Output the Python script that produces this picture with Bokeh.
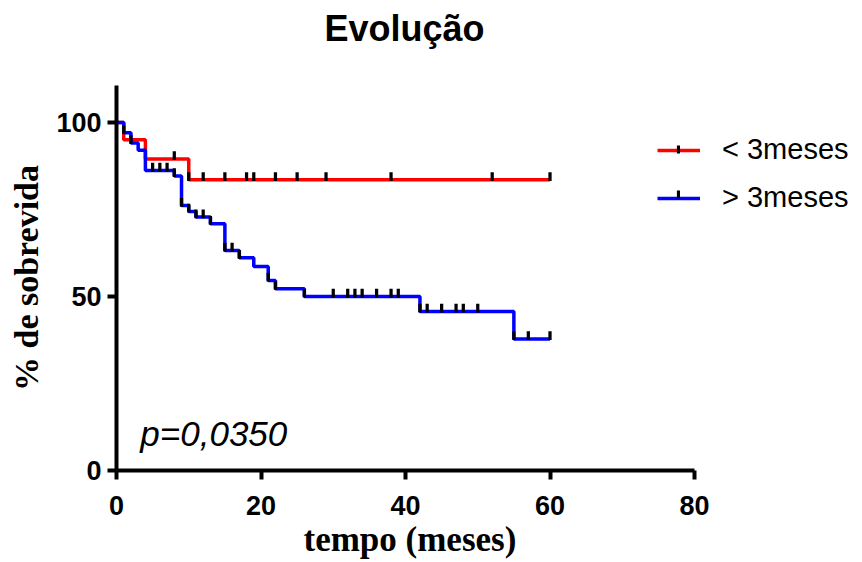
import numpy as np
from bokeh.plotting import figure
from bokeh.models import Legend, LegendItem, Range1d, FixedTicker, Title
from bokeh.core.properties import value
from bokeh.embed import file_html
from bokeh.resources import INLINE

# ---- data ----
title_text = "Evolução"
x_label = "tempo (meses)"
y_label = "% de sobrevida"
series_names = ["< 3meses", "> 3meses"]
p_text = "p=0,0350"

red_t = [0, 1, 4, 10, 60]
red_s = [100, 95, 89.5, 83.5, 83.5]
red_cens = [8, 10, 12, 15, 18, 19, 22, 25, 29, 38, 52, 60]

blue_t = [0, 1, 2, 3, 4, 8, 9, 10, 11, 13, 15, 17, 19, 21, 22, 26, 42, 55, 60]
blue_s = [100, 97, 94.1, 92, 86.2, 84.6, 76.1, 74.4, 72.8, 70.9, 63.2, 61.1,
          58.6, 54.6, 52.2, 50, 45.7, 37.8, 37.8]
blue_cens = [1, 2, 5, 6, 7, 8, 9, 10, 11, 12, 13, 15, 16, 17, 21, 22, 26, 30,
             32, 33, 34, 36, 38, 39, 42, 43, 45, 47, 48, 50, 55, 57, 60]

x_ticks = [0, 20, 40, 60, 80]
y_ticks = [0, 50, 100]


def level_at(times, surv, ts):
    idx = np.searchsorted(np.array(times), np.array(ts), side="right") - 1
    return [surv[i] for i in idx]


W, H = 860, 560
left, top, bottom = 116, 85, 90
axis_px = 578  # pixel length of the 0..80 x axis
x_end = x_ticks[-1] * (W - left) / axis_px

p = figure(width=W, height=H, output_backend="svg", toolbar_location=None,
           x_range=Range1d(0, x_end), y_range=Range1d(0, 110.6),
           min_border_left=left, min_border_right=0, min_border_top=top,
           min_border_bottom=bottom)

p.title.text = title_text
p.title.text_font = "Liberation Sans"
p.title.text_font_style = "bold"
p.title.text_font_size = "36px"
p.title.text_color = "black"
p.title.align = "left"
p.title.offset = 208
p.title.standoff = 0

# empty spacer between the title and the plot area
spacer = Title(text=" ", text_font_size="31px", standoff=0)
p.add_layout(spacer, "above")

p.grid.visible = False
p.outline_line_color = None
p.background_fill_color = "white"
p.border_fill_color = "white"

for ax in (p.xaxis[0], p.yaxis[0]):
    ax.axis_line_width = 4
    ax.major_tick_line_width = 4
    ax.major_tick_out = 9
    ax.major_tick_in = 0
    ax.minor_tick_line_color = None
    ax.major_label_text_font = "Liberation Sans"
    ax.major_label_text_font_style = "bold"
    ax.major_label_text_font_size = "27px"
    ax.axis_label_text_font = "Liberation Serif"
    ax.axis_label_text_font_style = "bold"
    ax.axis_label_text_font_size = "34px"
    ax.axis_label_text_color = "black"
    ax.major_label_text_color = "black"

p.xaxis.bounds = (x_ticks[0], x_ticks[-1])
p.xaxis.ticker = FixedTicker(ticks=x_ticks)
p.yaxis.ticker = FixedTicker(ticks=y_ticks)
p.yaxis.axis_label = y_label
p.xaxis.major_label_standoff = 16
p.yaxis.major_label_standoff = 6
p.yaxis.axis_label_standoff = 8

xt = Title(text=x_label, align="left", offset=187, standoff=0,
           text_font="Liberation Serif", text_font_style="bold",
           text_font_size="35px", text_color="black")
p.add_layout(xt, "below")

r_red = p.step(red_t, red_s, mode="after", line_color="#FF0000", line_width=3.5)
r_blue = p.step(blue_t, blue_s, mode="after", line_color="#0000FF", line_width=3.5)

tick_w, tick_h = 0.45, 2.2   # censor tick size in data units
red_lv = level_at(red_t, red_s, red_cens)
blue_lv = level_at(blue_t, blue_s, blue_cens)
c_red = p.vbar(x=red_cens, bottom=[v - 0.3 for v in red_lv],
               top=[v + tick_h for v in red_lv], width=tick_w,
               fill_color="black", line_color=None)
c_blue = p.vbar(x=blue_cens, bottom=[v - 0.3 for v in blue_lv],
                top=[v + tick_h for v in blue_lv], width=tick_w,
                fill_color="black", line_color=None)

p.text(x=[3.3], y=[10.7], text=[p_text], text_font=value("Liberation Sans"),
       text_font_style="italic", text_font_size="35px", text_baseline="alphabetic",
       text_color="black")

legend = Legend(items=[LegendItem(label=series_names[0], renderers=[r_red]),
                       LegendItem(label=series_names[1], renderers=[r_blue])],
                location=(541, 256), padding=0, margin=0, spacing=15,
                glyph_width=43, glyph_height=30, label_height=30,
                label_standoff=22, border_line_color=None,
                background_fill_alpha=0,
                label_text_font="Liberation Sans", label_text_font_size="29px",
                label_text_color="black")
p.add_layout(legend)

legend_ticks = Legend(items=[LegendItem(label=" ", renderers=[c_red]),
                             LegendItem(label=" ", renderers=[c_blue])],
                      location=(560, 261), padding=0, margin=0, spacing=15,
                      glyph_width=4, glyph_height=10, label_height=30,
                      label_standoff=0, border_line_color=None,
                      background_fill_alpha=0, label_text_font_size="29px")
p.add_layout(legend_ticks)

open("out.html", "w").write(file_html(p, INLINE))
